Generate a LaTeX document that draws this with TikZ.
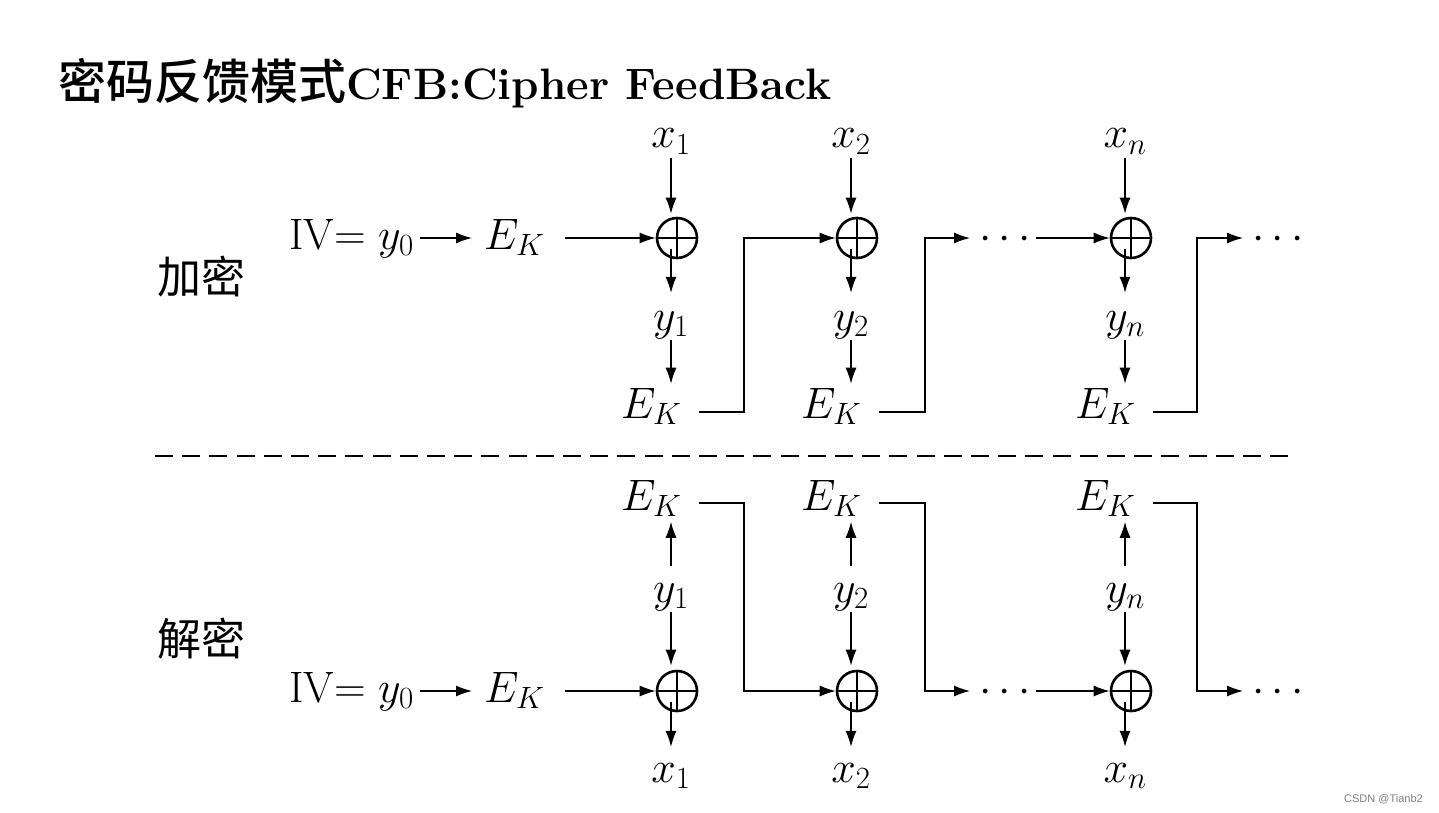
\RequirePackage{fix-cm}
\documentclass[tikz,border=0pt]{standalone}
\usepackage{fontspec}
\newfontfamily\cjkhei{Noto Sans CJK SC}
\IfFontExistsTF{Noto Sans CJK SC Medium}
  {\newfontfamily\cjktitle{Noto Sans CJK SC Medium}}
  {\newfontfamily\cjktitle{Noto Sans CJK SC}[FakeBold=2]}
\IfFontExistsTF{FandolSong-Regular.otf}
  {\newfontfamily\cjksong{FandolSong-Regular.otf}}
  {\newfontfamily\cjksong{Noto Sans CJK SC}}
\newfontfamily\wmfont{Liberation Sans}
\usetikzlibrary{arrows.meta,calc}
\begin{document}
\begin{tikzpicture}[x=1pt,y=-1pt,
  lbl/.style={inner sep=0pt, font=\fontsize{44}{52}\selectfont, anchor=base},
  cjklbl/.style={inner sep=0pt, font=\fontsize{44}{52}\selectfont\cjksong, anchor=center},
  xorop/.style={circle, draw, line width=2.6pt, minimum size=40pt, inner sep=0pt,
    path picture={\draw[line width=2pt] (path picture bounding box.north) -- (path picture bounding box.south)
      (path picture bounding box.west) -- (path picture bounding box.east);}},
  arr/.style={-{Latex[length=16pt,width=11pt]}, line width=1.3pt},
  sep/.style={line width=1.5pt, dash pattern=on 18pt off 9.2pt}]
\fill[white] (0,0) rectangle (1439,813);
\useasboundingbox (0,0) rectangle (1439,813);

% title
\node[anchor=base west, inner sep=0pt] (title) at (58,100)
  {{\fontsize{48}{56}\selectfont\cjktitle 密码反馈模式}{\fontsize{44}{52}\selectfont\bfseries CFB:Cipher FeedBack}};

% side labels
\node[cjklbl] (enc) at (201,277) {加密};
\node[cjklbl] (dec) at (201,639) {解密};

% separator
\coordinate (sepL) at (155,456);
\coordinate (sepR) at (1289,456);
\draw[sep] (sepL) -- (sepR);

% ================= encryption =================
\node[lbl, anchor=base west] (iv1) at (289,249) {IV$=y_0$};
\node[lbl, anchor=base west] (ek0) at (484,249) {$E_K$};
\node[xorop] (o1) at (677,238) {};
\node[xorop] (o2) at (857,238) {};
\node[xorop] (o3) at (1131,238) {};
\node[lbl] (xt1) at (671,148) {$x_1$};
\node[lbl] (xt2) at (851,148) {$x_2$};
\node[lbl] (xt3) at (1125,148) {$x_n$};
\node[lbl] (yt1) at (671,330) {$y_1$};
\node[lbl] (yt2) at (851,330) {$y_2$};
\node[lbl] (yt3) at (1125,330) {$y_n$};
\node[lbl, anchor=base west] (et1) at (621,418) {$E_K$};
\node[lbl, anchor=base west] (et2) at (801,418) {$E_K$};
\node[lbl, anchor=base west] (et3) at (1075,418) {$E_K$};
\node[lbl, anchor=base west] (dt1) at (979,249) {$\cdots$};
\node[lbl, anchor=base west] (dt2) at (1252,249) {$\cdots$};

\draw[arr, shorten <=6pt, shorten >=12pt] (iv1.east |- o1) -- (ek0.west |- o1);
\draw[arr, shorten <=20pt] (ek0.east |- o1) -- (o1.west);

\foreach \c in {1,2,3}{
  \draw[arr, shorten <=3pt, shorten >=3pt] (xt\c.south) -- (xt\c.south |- o\c.north);
  \draw[arr, shorten >=18pt] ($(o\c.center)+(-6,11)$) -- (yt\c.north);
  \draw[arr, shorten <=1.5pt, shorten >=4pt] (yt\c.south) -- (yt\c.south |- et\c.north);
}
\draw[arr] ($(et1.base west)+(78,-6)$) -| ($(o1)+(67,0)$) -- (o2.west);
\draw[arr, shorten >=9pt] ($(et2.base west)+(78,-6)$) -| ($(o2)+(68,0)$) -- (dt1.west |- o2);
\draw[arr, shorten <=5pt] (dt1.east |- o3) -- (o3.west);
\draw[arr, shorten >=9pt] ($(et3.base west)+(78,-6)$) -| ($(o3)+(66,0)$) -- (dt2.west |- o3);

% ================= decryption =================
\node[lbl, anchor=base west] (iv2) at (289,702) {IV$=y_0$};
\node[lbl, anchor=base west] (ek02) at (484,702) {$E_K$};
\node[xorop] (ob1) at (677,691) {};
\node[xorop] (ob2) at (857,691) {};
\node[xorop] (ob3) at (1131,691) {};
\node[lbl, anchor=base west] (eb1) at (621,510) {$E_K$};
\node[lbl, anchor=base west] (eb2) at (801,510) {$E_K$};
\node[lbl, anchor=base west] (eb3) at (1075,510) {$E_K$};
\node[lbl] (yb1) at (671,602) {$y_1$};
\node[lbl] (yb2) at (851,602) {$y_2$};
\node[lbl] (yb3) at (1125,602) {$y_n$};
\node[lbl] (xb1) at (671,782) {$x_1$};
\node[lbl] (xb2) at (851,782) {$x_2$};
\node[lbl] (xb3) at (1125,782) {$x_n$};
\node[lbl, anchor=base west] (db1) at (979,702) {$\cdots$};
\node[lbl, anchor=base west] (db2) at (1252,702) {$\cdots$};

\draw[arr, shorten <=6pt, shorten >=12pt] (iv2.east |- ob1) -- (ek02.west |- ob1);
\draw[arr, shorten <=20pt] (ek02.east |- ob1) -- (ob1.west);

\foreach \c in {1,2,3}{
  \draw[arr, shorten <=17pt, shorten >=5pt] (yb\c.north) -- (yb\c.north |- eb\c.south);
  \draw[arr, shorten <=1.5pt, shorten >=4pt] (yb\c.south) -- (yb\c.south |- ob\c.north);
  \draw[arr, shorten >=16pt] ($(ob\c.center)+(-6,11)$) -- (xb\c.north);
}
\draw[arr] ($(eb1.base west)+(78,-7)$) -| ($(ob1)+(67,0)$) -- (ob2.west);
\draw[arr, shorten >=9pt] ($(eb2.base west)+(78,-7)$) -| ($(ob2)+(68,0)$) -- (db1.west |- ob2);
\draw[arr, shorten <=5pt] (db1.east |- ob3) -- (ob3.west);
\draw[arr, shorten >=9pt] ($(eb3.base west)+(78,-7)$) -| ($(ob3)+(66,0)$) -- (db2.west |- ob3);

% watermark
\node[anchor=east, inner sep=0pt, font=\wmfont\fontsize{11}{13}\selectfont, text=black!50] (wm) at (1423,799) {CSDN @Tianb2};
\end{tikzpicture}
\end{document}
